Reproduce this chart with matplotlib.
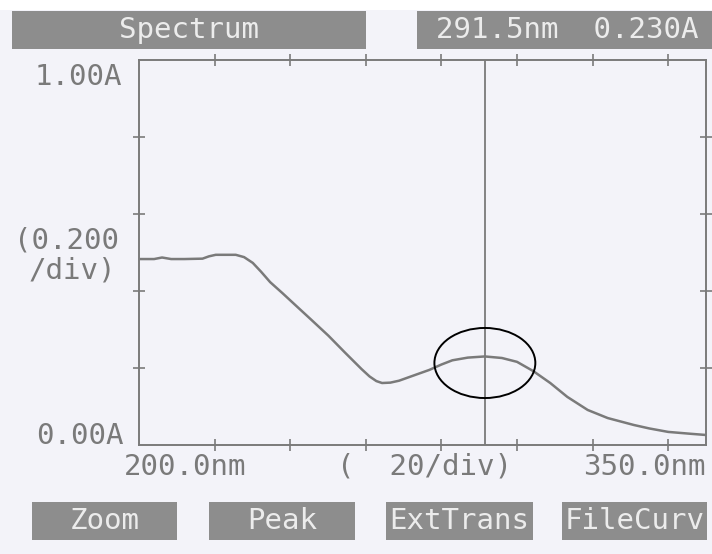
import matplotlib
matplotlib.use("Agg")
import matplotlib.pyplot as plt
from matplotlib.patches import Rectangle, Ellipse

# Spectrum
wavelength = [200, 204, 206.1, 208.5, 212, 216.8, 218.5, 220.3, 223, 225.6, 227.8,
              230.1, 232.3, 234.7, 238, 241.3, 245.5, 250.1, 254.5, 258.9, 261,
              262.8, 264.3, 266.5, 268.8, 272.5, 276.8, 280, 282.9, 287, 291.5,
              296, 300, 304.3, 308.8, 313.3, 318.7, 324, 330.9, 335, 340, 346.1, 350]
absorbance = [0.483, 0.483, 0.487, 0.483, 0.483, 0.484, 0.490, 0.494, 0.494, 0.494, 0.488,
              0.473, 0.450, 0.423, 0.394, 0.364, 0.326, 0.284, 0.240, 0.197, 0.178,
              0.166, 0.161, 0.162, 0.167, 0.180, 0.195, 0.209, 0.220, 0.227, 0.230,
              0.226, 0.216, 0.192, 0.161, 0.125, 0.091, 0.070, 0.052, 0.043, 0.034, 0.029, 0.026]

cursor_nm = 291.5
cursor_abs = 0.230
x_ticks = [220, 240, 260, 280, 300, 320, 340]
y_ticks = [0.2, 0.4, 0.6, 0.8]
buttons = ["Zoom", "Peak", "ExtTrans", "FileCurv"]

W, H = 712, 554
BG = "#f3f3f9"
GREY = "#7a7a7a"
BOX = "#8d8d8d"
BOX_TEXT = "#ececec"
MONO = ["DejaVu Sans Mono"]
FS = 21


def fx(x):
    return x / W


def fy(y):
    return 1 - y / H


def box(x0, x1, y0, y1):
    fig.patches.append(Rectangle((fx(x0), fy(y1)), fx(x1) - fx(x0), fy(y0) - fy(y1),
                                 transform=fig.transFigure, facecolor=BOX,
                                 edgecolor="none", zorder=1))


fig = plt.figure(figsize=(W / 100, H / 100), dpi=100, facecolor=BG)
fig.patches.append(Rectangle((0, fy(10)), 1, 1, transform=fig.transFigure,
                             facecolor="white", edgecolor="none", zorder=0))

ax = fig.add_axes([fx(139), fy(445), fx(706) - fx(139), fy(60) - fy(445)])
ax.set_facecolor(BG)
ax.plot(wavelength, absorbance, color=GREY, lw=1.8)
ax.axvline(cursor_nm, color=GREY, lw=1.3)
ax.add_patch(Ellipse((cursor_nm, cursor_abs - 0.017), 26.7, 0.182,
                     facecolor="none", edgecolor="black", lw=1.4, zorder=5))

ax.set_xlim(200, 350)
ax.set_ylim(0, 1)
ax.set_xticks(x_ticks)
ax.set_yticks(y_ticks)
ax.tick_params(direction="inout", length=8, width=1.2, color=GREY,
               top=True, right=True, labelbottom=False, labelleft=False)
for s in ax.spines.values():
    s.set_color(GREY)
    s.set_linewidth(1.4)

# header bar
box(12, 366, 11, 49)
box(417, 712, 11, 49)
fig.text(fx(189), fy(30), "Spectrum", ha="center", va="center",
         family=MONO, fontsize=FS, color=BOX_TEXT)
fig.text(fx(436), fy(30), f"{cursor_nm}nm  {cursor_abs:.3f}A", ha="left", va="center",
         family=MONO, fontsize=FS, color=BOX_TEXT)

# axis labels as drawn on the screen
fig.text(fx(122), fy(77), "1.00A", ha="right", va="center", family=MONO, fontsize=FS, color=GREY)
fig.text(fx(119), fy(241), "(0.200", ha="right", va="center", family=MONO, fontsize=FS, color=GREY)
fig.text(fx(116), fy(270), "/div)", ha="right", va="center", family=MONO, fontsize=FS, color=GREY)
fig.text(fx(124), fy(436), "0.00A", ha="right", va="center", family=MONO, fontsize=FS, color=GREY)
fig.text(fx(124), fy(467), "200.0nm", ha="left", va="center", family=MONO, fontsize=FS, color=GREY)
fig.text(fx(337), fy(467), "(  20/div)", ha="left", va="center", family=MONO, fontsize=FS, color=GREY)
fig.text(fx(706), fy(467), "350.0nm", ha="right", va="center", family=MONO, fontsize=FS, color=GREY)

# soft keys
key_x = [(32, 177), (209, 355), (386, 533), (562, 707)]
for label, (x0, x1) in zip(buttons, key_x):
    box(x0, x1, 502, 540)
    fig.text(fx((x0 + x1) / 2), fy(521), label, ha="center", va="center",
             family=MONO, fontsize=FS, color=BOX_TEXT)

fig.savefig("out.png", dpi=100, facecolor=fig.get_facecolor())
